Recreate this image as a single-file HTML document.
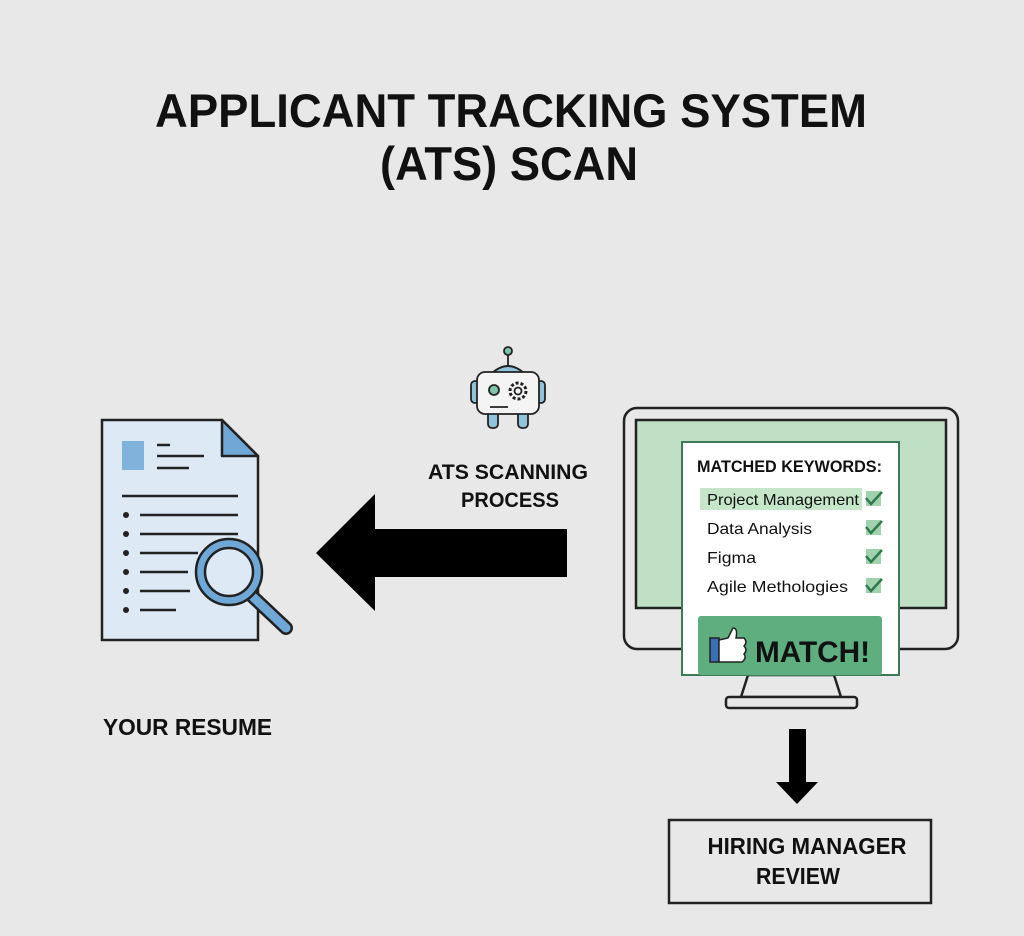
<!DOCTYPE html>
<html><head><meta charset="utf-8"><style>
html,body{margin:0;padding:0;background:#e8e8e8;}
svg{display:block;}
text{font-family:"Liberation Sans",Arial,sans-serif;}
</style></head><body>
<svg width="1024" height="936" viewBox="0 0 1024 936" xmlns="http://www.w3.org/2000/svg">
<rect width="1024" height="936" fill="#e8e8e8"/>
<!-- Title -->
<text x="155" y="127" font-size="47" font-weight="bold" fill="#111" textLength="712" lengthAdjust="spacingAndGlyphs">APPLICANT TRACKING SYSTEM</text>
<text x="380" y="180" font-size="47" font-weight="bold" fill="#111" textLength="258" lengthAdjust="spacingAndGlyphs">(ATS) SCAN</text>

<!-- Resume document -->
<path d="M102 420 H222 L258 456 V640 H102 Z" fill="#dde9f4" stroke="#222" stroke-width="2.5"/>
<path d="M222 420 V456 H258 Z" fill="#6fa8d6" stroke="#222" stroke-width="2.5" stroke-linejoin="round"/>
<rect x="122" y="441" width="22" height="29" fill="#7fb3dc"/>
<g stroke="#222" stroke-width="2.5">
<line x1="157" y1="445" x2="170" y2="445"/>
<line x1="157" y1="456" x2="204" y2="456"/>
<line x1="157" y1="468" x2="189" y2="468"/>
<line x1="122" y1="496" x2="238" y2="496"/>
<line x1="140" y1="515" x2="238" y2="515"/>
<line x1="140" y1="534" x2="238" y2="534"/>
<line x1="140" y1="553" x2="198" y2="553"/>
<line x1="140" y1="572" x2="188" y2="572"/>
<line x1="140" y1="591" x2="190" y2="591"/>
<line x1="140" y1="610" x2="176" y2="610"/>
</g>
<g fill="#222">
<circle cx="126" cy="515" r="3"/><circle cx="126" cy="534" r="3"/><circle cx="126" cy="553" r="3"/>
<circle cx="126" cy="572" r="3"/><circle cx="126" cy="591" r="3"/><circle cx="126" cy="610" r="3"/>
</g>
<!-- Magnifier -->
<line x1="252" y1="596" x2="286" y2="628" stroke="#222" stroke-width="14" stroke-linecap="round"/>
<line x1="252" y1="596" x2="286" y2="628" stroke="#6fa8d6" stroke-width="9" stroke-linecap="round"/>
<circle cx="229" cy="572" r="33" fill="#6fa8d6" stroke="#222" stroke-width="2.5"/>
<circle cx="229" cy="572" r="24" fill="#dde9f4" stroke="#222" stroke-width="2.5"/>

<text x="103" y="735" font-size="23" font-weight="bold" fill="#111" textLength="169" lengthAdjust="spacingAndGlyphs">YOUR RESUME</text>

<!-- Big left arrow -->
<path d="M567 529 H375 V494 L316 553 L375 611 V577 H567 Z" fill="#000"/>

<!-- Robot -->
<g stroke="#222" stroke-width="1.8">
<line x1="508" y1="353" x2="508" y2="366"/>
<circle cx="508" cy="351" r="4" fill="#7cc5ab"/>
<path d="M491 374 Q508 358 525 374 Z" fill="#8fc3dc"/>
<rect x="471" y="381" width="8" height="22" rx="4" fill="#8fc3dc"/>
<rect x="537" y="381" width="8" height="22" rx="4" fill="#8fc3dc"/>
<rect x="488" y="408" width="10" height="20" rx="4" fill="#8fc3dc"/>
<rect x="518" y="408" width="10" height="20" rx="4" fill="#8fc3dc"/>
<rect x="477" y="372" width="62" height="42" rx="8" fill="#f4f4f4"/>
<circle cx="494" cy="390" r="5" fill="#7cc5ab"/>
<circle cx="518" cy="391" r="8" fill="none" stroke-dasharray="3 2" stroke-width="3"/>
<circle cx="518" cy="391" r="3.5" fill="none"/>
<line x1="490" y1="407" x2="508" y2="407"/>
</g>

<text x="508" y="479" font-size="21" font-weight="bold" fill="#111" text-anchor="middle" textLength="160" lengthAdjust="spacingAndGlyphs">ATS SCANNING</text>
<text x="510" y="507" font-size="21" font-weight="bold" fill="#111" text-anchor="middle" textLength="98" lengthAdjust="spacingAndGlyphs">PROCESS</text>

<!-- Monitor -->
<rect x="624" y="408" width="334" height="241" rx="13" fill="#e8e8e8" stroke="#222" stroke-width="2.5"/>
<rect x="636" y="420" width="310" height="188" fill="#bfe0c4" stroke="#222" stroke-width="2.5"/>
<path d="M748 675 L741 697 H841 L834 675 Z" fill="#e8e8e8" stroke="#222" stroke-width="2.5"/>
<rect x="726" y="697" width="131" height="11" rx="3" fill="#e8e8e8" stroke="#222" stroke-width="2.5"/>
<rect x="682" y="442" width="217" height="233" fill="#fff" stroke="#3d7a57" stroke-width="2"/>
<text x="697" y="472" font-size="16.5" font-weight="bold" fill="#111" textLength="185" lengthAdjust="spacingAndGlyphs">MATCHED KEYWORDS:</text>
<rect x="700" y="488" width="162" height="22" fill="#c6e6c9"/>
<text x="707" y="505" font-size="16" fill="#111" textLength="152" lengthAdjust="spacingAndGlyphs">Project Management</text>
<text x="707" y="534" font-size="16" fill="#111" textLength="105" lengthAdjust="spacingAndGlyphs">Data Analysis</text>
<text x="707" y="563" font-size="16" fill="#111" textLength="49" lengthAdjust="spacingAndGlyphs">Figma</text>
<text x="707" y="592" font-size="16" fill="#111" textLength="141" lengthAdjust="spacingAndGlyphs">Agile Methologies</text>
<g>
<rect x="866" y="491" width="15" height="15" fill="#9fd2ad"/>
<rect x="866" y="520" width="15" height="15" fill="#9fd2ad"/>
<rect x="866" y="549" width="15" height="15" fill="#9fd2ad"/>
<rect x="866" y="578" width="15" height="15" fill="#9fd2ad"/>
<g fill="none" stroke="#2f7a4a" stroke-width="2.5">
<path d="M866 498 l5 6 l11 -12"/><path d="M866 527 l5 6 l11 -12"/><path d="M866 556 l5 6 l11 -12"/><path d="M866 585 l5 6 l11 -12"/>
</g>
</g>
<rect x="698" y="616" width="184" height="59" rx="3" fill="#5fae80"/>
<rect x="710" y="638" width="9" height="24" fill="#3b6fb3" stroke="#222" stroke-width="1.5"/>
<path d="M719 640 L728 638 L733 628 Q738 628 736 638 L744 638 Q748 642 744 646 Q748 650 744 654 Q747 658 742 662 L719 662 Z" fill="#fff" stroke="#222" stroke-width="1.5"/>
<text x="755" y="662" font-size="30" font-weight="bold" fill="#111" textLength="115" lengthAdjust="spacingAndGlyphs">MATCH!</text>

<!-- Down arrow -->
<path d="M789 729 H806 V782 H818 L797 804 L776 782 H789 Z" fill="#000"/>

<!-- Hiring box -->
<rect x="669" y="820" width="262" height="83" fill="#e8e8e8" stroke="#222" stroke-width="2.5"/>
<text x="807" y="854" font-size="23" font-weight="bold" fill="#111" text-anchor="middle" textLength="199" lengthAdjust="spacingAndGlyphs">HIRING MANAGER</text>
<text x="798" y="884" font-size="23" font-weight="bold" fill="#111" text-anchor="middle" textLength="84" lengthAdjust="spacingAndGlyphs">REVIEW</text>
</svg>
</body></html>
